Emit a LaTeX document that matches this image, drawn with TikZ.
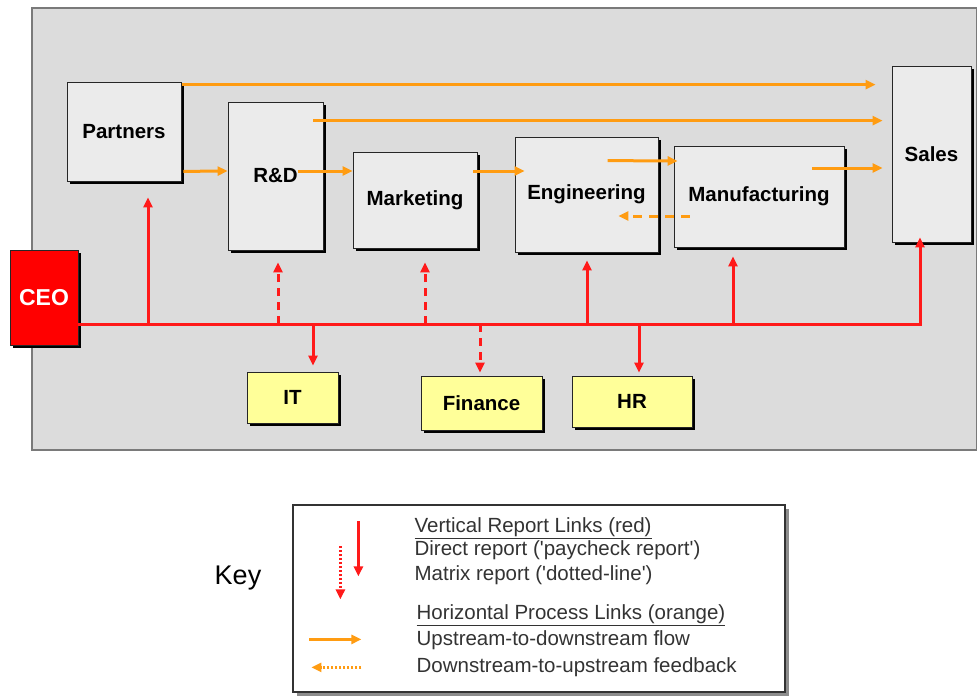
\documentclass[tikz,border=0pt]{standalone}
\usepackage{fontspec}
\setmainfont{Liberation Sans}
\usetikzlibrary{arrows.meta,calc,shadows}
\definecolor{bggray}{HTML}{DCDCDC}
\definecolor{bgedge}{HTML}{7A7A7A}
\definecolor{boxfill}{HTML}{EBEBEB}
\definecolor{orng}{HTML}{FF9C12}
\definecolor{rd}{HTML}{FF1A1A}
\definecolor{ylw}{HTML}{FFFF99}
\definecolor{txt}{HTML}{333333}
\begin{document}
\begin{tikzpicture}[x=1pt,y=-1pt,
  orgbox/.style={draw=black!85, line width=0.8pt, fill=boxfill, inner sep=0pt,
    font=\fontsize{20.5}{24}\selectfont\bfseries,
    drop shadow={shadow xshift=3pt, shadow yshift=-3pt, fill=black, opacity=1}},
  ceobox/.style={orgbox, fill=red, text=white, font=\fontsize{23}{26}\selectfont\bfseries},
  staffbox/.style={orgbox, fill=ylw},
  tip/.style={-{Triangle[length=10pt,width=9pt]}},
  flow/.style={tip, draw=orng, line width=3pt},
  feedback/.style={flow, dash pattern=on 9pt off 7pt},
  rep/.style={draw=rd, line width=3pt},
  direct/.style={rep, tip},
  matrix/.style={rep, tip, dash pattern=on 8pt off 6pt},
  legtext/.style={anchor=mid west, text=txt, inner sep=0pt, font=\fontsize{20.5}{24}\selectfont}]
\useasboundingbox (0,0) rectangle (977,696);
% background panel
\node[draw=bgedge, line width=2pt, fill=bggray, minimum width=945pt, minimum height=442pt, inner sep=0pt] (panel) at (504,229) {};
% units
\node[orgbox, minimum width=114pt, minimum height=99pt] (partners) at (124,131.5) {Partners};
\node[orgbox, minimum width=95pt, minimum height=148pt] (rd) at (275.5,176) {R\&D};
\node[orgbox, minimum width=124pt, minimum height=96pt] (mkt) at (415,200) {Marketing};
\node[orgbox, minimum width=143pt, minimum height=115pt] (eng) at (586.5,194.5) {Engineering};
\node[orgbox, minimum width=170pt, minimum height=101pt] (mfg) at (759,196.5) {Manufacturing};
\node[orgbox, minimum width=79pt, minimum height=176pt] (sales) at (931.5,154) {Sales};
\node[ceobox, minimum width=68pt, minimum height=95pt] (ceo) at (44,297.5) {CEO};
\node[staffbox, minimum width=91pt, minimum height=51pt] (it) at (292.5,397.5) {IT};
\node[staffbox, minimum width=121pt, minimum height=54pt] (fin) at (481.5,403) {Finance};
\node[staffbox, minimum width=120pt, minimum height=51pt] (hr) at (632,401.5) {HR};
% orange process links
\draw[flow] ($(partners.north east)+(1,3)$) -- ($(sales.north west)+(-16,19)$);
\draw[flow] ($(rd.north east)+(-10,19)$) -- ($(sales.north west)+(-9,55)$);
\draw[flow] ($(partners.south east)+(2,-10)$) -- ($(rd.west)+(0,-5)$);
\draw[flow] ($(rd.west)+(70,-5)$) -- ($(mkt.west)+(0,-29)$);
\draw[flow] ($(mkt.east)+(-4,-29)$) -- ($(eng.west)+(10,-23.5)$);
\draw[flow] ($(eng.north west)+(93,24)$) -- ($(mfg.west)+(4,-35.5)$);
\draw[flow] ($(mfg.east)+(-32,-28.5)$) -- ($(sales.west)+(-9,14)$);
\draw[feedback] ($(mfg.west)+(16,19.5)$) -- ($(eng.east)+(-40,21.5)$);
% red report links
\coordinate (busL) at ($(ceo.east)+(0,26.5)$);
\coordinate (busR) at (920,324);
\coordinate (tSales) at ($(sales.south)+(-11.5,-5)$);
\coordinate (tPart) at ($(partners.south)+(24,16)$);
\coordinate (tRd) at ($(rd.south)+(2.5,12)$);
\coordinate (tMkt) at ($(mkt.south)+(10,14)$);
\coordinate (tIt) at ($(it.north)+(20.5,-6)$);
\coordinate (tFin) at ($(fin.north)+(-1.5,-3)$);
\coordinate (tEng) at ($(eng.south)+(0.5,8)$);
\coordinate (tHr) at ($(hr.north)+(7,-3)$);
\coordinate (tMfg) at ($(mfg.south)+(-26,9)$);
\draw[direct] (busL) -- (busR) -- (tSales);
\draw[direct] (tPart |- busL) -- (tPart);
\draw[matrix] (tRd |- busL) -- (tRd);
\draw[matrix] (tMkt |- busL) -- (tMkt);
\draw[direct] (tIt |- busL) -- (tIt);
\draw[matrix] (tFin |- busL) -- (tFin);
\draw[direct] (tEng |- busL) -- (tEng);
\draw[direct] (tHr |- busL) -- (tHr);
\draw[direct] (tMfg |- busL) -- (tMfg);
% key
\node[font=\fontsize{27}{30}\selectfont] (key) at (238,578) {Key};
\node[draw=txt, line width=1.2pt, fill=white, minimum width=492pt, minimum height=187pt, inner sep=0pt,
  drop shadow={shadow xshift=4pt, shadow yshift=-4pt, fill=black!45, opacity=1}] (legend) at (539,598.5) {};
\draw[direct, line width=2.6pt] ($(legend.north west)+(66,17)$) -- ($(legend.north west)+(66,72)$);
\draw[direct, line width=2.6pt, dash pattern=on 2pt off 2pt] ($(legend.north west)+(48,42)$) -- ($(legend.north west)+(48,95)$);
\draw[flow, line width=2.6pt] ($(legend.north west)+(17,135)$) -- ($(legend.north west)+(69,135)$);
\draw[flow, line width=2.6pt, dash pattern=on 2pt off 2pt] ($(legend.north west)+(69,163)$) -- ($(legend.north west)+(19,163)$);
\node[legtext] (l1) at ($(legend.north west)+(122,25)$) {\underline{Vertical Report Links (red)}};
\node[legtext] (l2) at ($(legend.north west)+(122,48)$) {Direct report (\textquotesingle paycheck report\textquotesingle)};
\node[legtext] (l3) at ($(legend.north west)+(122,73)$) {Matrix report (\textquotesingle dotted-line\textquotesingle)};
\node[legtext] (l4) at ($(legend.north west)+(124,112)$) {\underline{Horizontal Process Links (orange)}};
\node[legtext] (l5) at ($(legend.north west)+(124,138)$) {Upstream-to-downstream flow};
\node[legtext] (l6) at ($(legend.north west)+(124,165)$) {Downstream-to-upstream feedback};
\end{tikzpicture}
\end{document}
